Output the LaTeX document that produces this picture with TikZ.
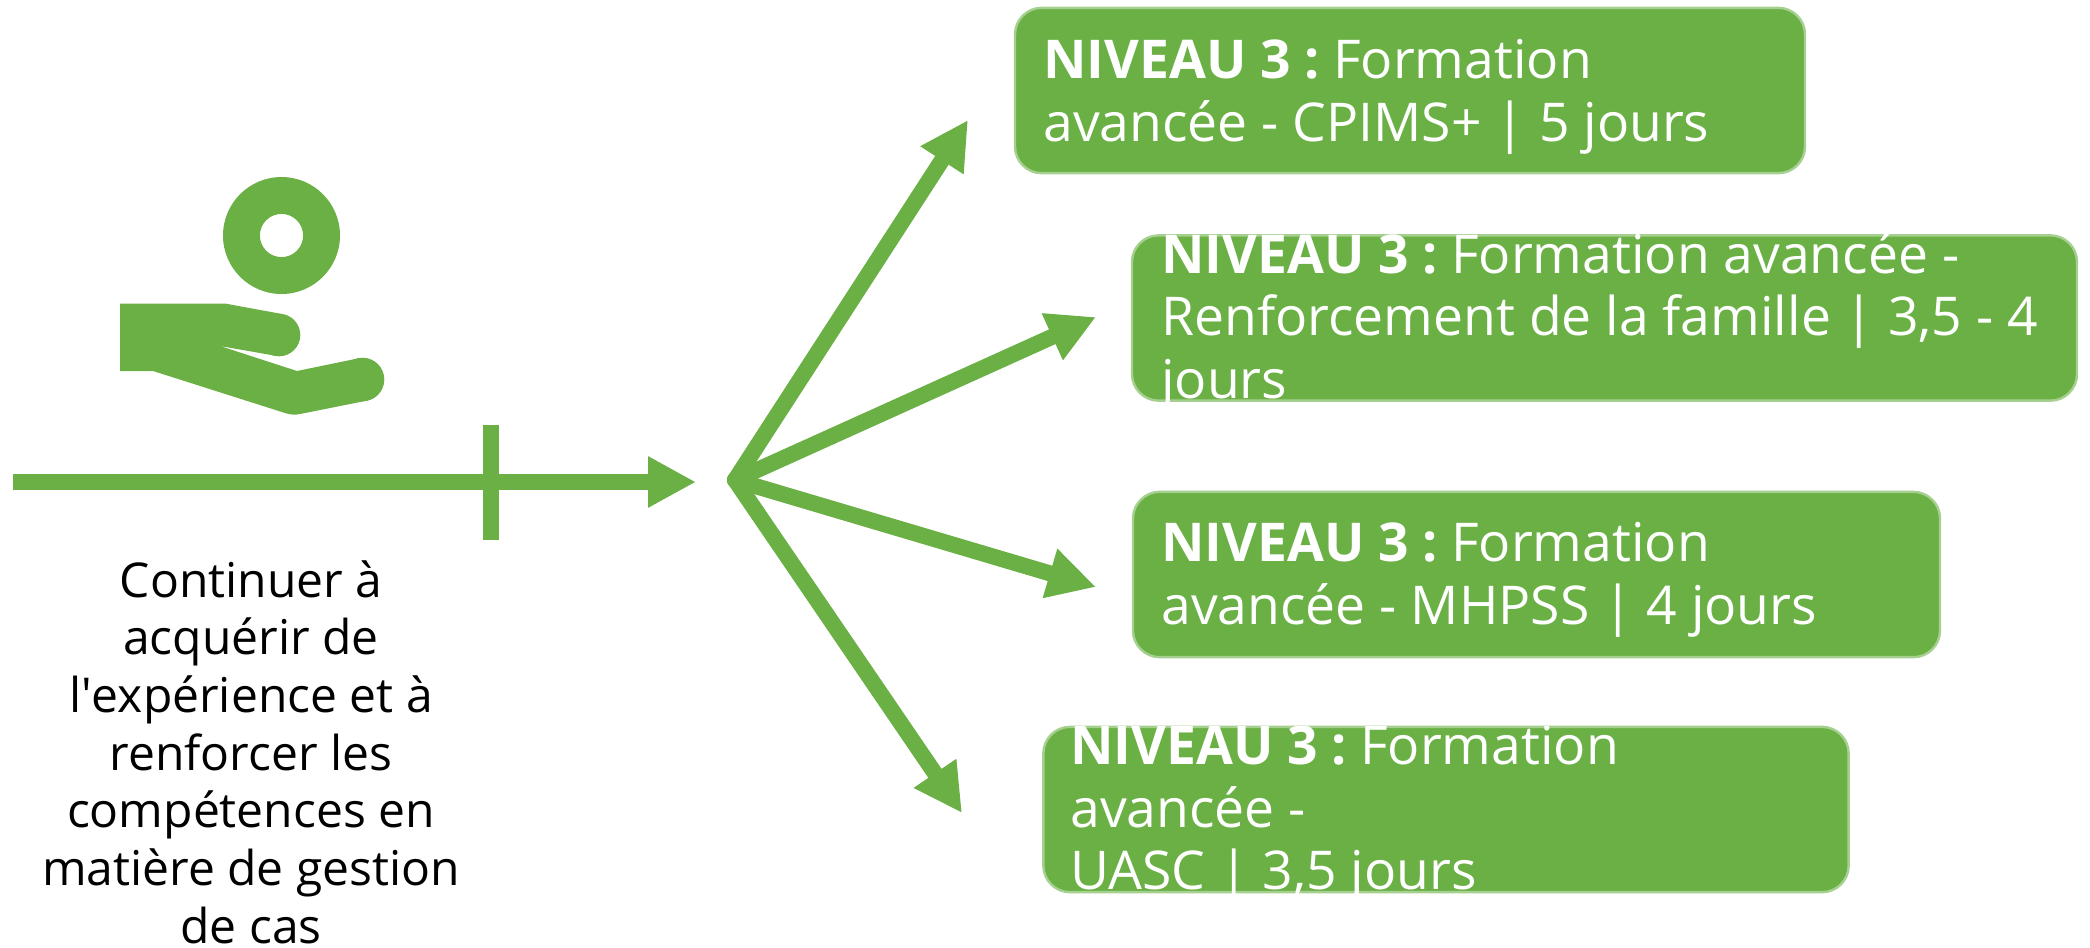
\documentclass[tikz,border=0pt]{standalone}
\usepackage{fontspec}
\setmainfont{Open Sans}
\usetikzlibrary{arrows.meta}
\definecolor{vert}{HTML}{6AB045}
\definecolor{vertc}{HTML}{A6D08F}
\def\hd{-{Triangle[length=36pt,width=36pt]}}
\def\nv{\textbf{NIVEAU 3 :} \hspace{-4pt}}
\tikzstyle{boite}=[rectangle,draw=vertc,fill=vert,line width=1.8pt,rounded corners=20pt,inner sep=0pt]
\tikzstyle{txt}=[text=white,align=left,inner sep=0pt,anchor=north west,font=\fontsize{40.1}{47}\selectfont]
\tikzstyle{fleche}=[draw=vert,line width=12pt,line cap=round]
\begin{document}
\begin{tikzpicture}[x=.75pt,y=-.75pt]
	\useasboundingbox (0,0) rectangle (2090,947);
	% icone
	\fill[vert,even odd rule] (281.5,235.5) circle (58.5) (281.5,235.5) circle (21.6);
	\fill[vert] (120,303.5) -- (225,303.5) -- (282,314) -- (277,356) -- (220,346) -- (297,371) -- (360,358) -- (365,401) -- (300,414)
		.. controls (296,415) and (291,415) .. (285,413) -- (153,371) -- (120,371) -- cycle;
	\fill[vert] (279,335) circle (21.3);
	\fill[vert] (362.5,379.5) circle (21.8);
	% axe
	\coordinate (a0) at (13,482);
	\coordinate (a1) at (696,482);
	\coordinate (tick0) at (491,425);
	\coordinate (tick1) at (491,540);
	\draw[vert,line width=12pt,\hd] (a0)--(a1);
	\draw[vert,line width=12pt] (tick0)--(tick1);
	\node[align=center,inner sep=0pt,anchor=north,font=\fontsize{36}{43.3}\selectfont](cont) at (251,560){Continuer à\\acquérir de\\l\textquotesingle expérience et à\\renforcer les\\compétences en\\matière de gestion\\de cas};
	% boites
	\node[boite,minimum width=592.5pt,minimum height=124pt](n1) at (1410,90.5){};
	\node[boite,minimum width=708.75pt,minimum height=124pt](n2) at (1604.5,318){};
	\node[boite,minimum width=605.25pt,minimum height=124pt](n3) at (1536.5,574.5){};
	\node[boite,minimum width=604pt,minimum height=124pt](n4) at (1446,809.5){};
	\begin{scope}
		\clip[rounded corners=20pt] (n1.south west) rectangle (n1.north east);
		\node[txt](t1) at (1043,39){\nv Formation\\avancée - CPIMS+ | 5 jours};
	\end{scope}
	\begin{scope}
		\clip[rounded corners=20pt] (n2.south west) rectangle (n2.north east);
		\node[txt](t2) at (1161,232){\nv Formation avancée -\\Renforcement de la famille | 3,5 - 4\\jours};
	\end{scope}
	\begin{scope}
		\clip[rounded corners=20pt] (n3.south west) rectangle (n3.north east);
		\node[txt](t3) at (1161,522){\nv Formation\\avancée - MHPSS | 4 jours};
	\end{scope}
	\begin{scope}
		\clip[rounded corners=20pt] (n4.south west) rectangle (n4.north east);
		\node[txt](t4) at (1070,725){\nv Formation\\avancée -\\UASC | 3,5 jours};
	\end{scope}
	% fleches
	\coordinate (hub) at (735,480);
	\coordinate (f1) at (968,120);
	\coordinate (f2) at (1096,317);
	\coordinate (f3) at (1096,587);
	\coordinate (f4) at (962,813);
	\draw[fleche,\hd] (hub)--(f1);
	\draw[fleche,\hd] (hub)--(f2);
	\draw[fleche,\hd] (hub)--(f3);
	\draw[fleche,\hd] (hub)--(f4);
\end{tikzpicture}
\end{document}
